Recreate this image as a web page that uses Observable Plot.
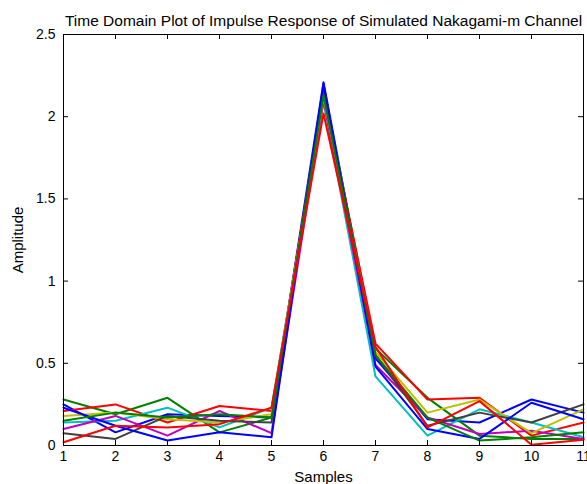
<!DOCTYPE html>
<html>
<head>
<meta charset="utf-8">
<script src="https://cdn.jsdelivr.net/npm/d3@7"></script>
<script src="https://cdn.jsdelivr.net/npm/@observablehq/plot@0.6"></script>
<style>
  html, body { margin: 0; padding: 0; background: #fff; }
  svg { display: block; }
</style>
</head>
<body>
<div id="chart"></div>
<script>
const samples = [1, 2, 3, 4, 5, 6, 7, 8, 9, 10, 11];
const xTicks = [1, 2, 3, 4, 5, 6, 7, 8, 9, 10, 11];
const yTicks = [0, 0.5, 1, 1.5, 2, 2.5];

const seriesNames = ["blue1", "green1", "red1", "cyan", "magenta", "yellow", "gray", "blue2", "green2", "red2"];
const seriesColors = ["#0000ff", "#008000", "#ff0000", "#00bfbf", "#bf00bf", "#bfbf00", "#404040", "#0000ff", "#008000", "#ff0000"];

const blue1   = [0.25, 0.08, 0.19, 0.18, 0.17, 2.21, 0.53, 0.16, 0.14, 0.28, 0.20];
const green1  = [0.28, 0.19, 0.29, 0.08, 0.17, 2.17, 0.59, 0.29, 0.06, 0.04, 0.04];
const red1    = [0.21, 0.25, 0.14, 0.24, 0.21, 2.14, 0.62, 0.28, 0.29, 0.06, 0.14];
const cyan    = [0.14, 0.15, 0.23, 0.11, 0.23, 2.09, 0.42, 0.06, 0.22, 0.14, 0.05];
const magenta = [0.10, 0.18, 0.06, 0.21, 0.075, 2.10, 0.49, 0.17, 0.07, 0.09, 0.04];
const yellow  = [0.18, 0.20, 0.16, 0.14, 0.19, 2.12, 0.57, 0.20, 0.28, 0.075, 0.22];
const gray    = [0.075, 0.04, 0.18, 0.15, 0.14, 2.15, 0.55, 0.12, 0.20, 0.14, 0.25];
const blue2   = [0.23, 0.12, 0.03, 0.08, 0.05, 2.20, 0.48, 0.10, 0.04, 0.26, 0.16];
const green2  = [0.15, 0.20, 0.17, 0.19, 0.17, 2.13, 0.55, 0.17, 0.03, 0.05, 0.08];
const red2    = [0.02, 0.12, 0.11, 0.13, 0.23, 2.02, 0.60, 0.11, 0.27, 0.005, 0.035];

const seriesValues = [blue1, green1, red1, cyan, magenta, yellow, gray, blue2, green2, red2];

const data = seriesValues.flatMap((vals, i) =>
  vals.map((v, j) => ({x: samples[j], y: v, series: seriesNames[i], color: seriesColors[i]}))
);

const titleText = "Time Domain Plot of Impulse Response of Simulated Nakagami-m Channel";

const chart = Plot.plot({
  width: 587,
  height: 484,
  marginLeft: 63,
  marginRight: 4,
  marginTop: 34,
  marginBottom: 39,
  style: {fontFamily: "'Liberation Sans', Arial, sans-serif", fontSize: "14px", color: "#000", background: "#fff"},
  x: {domain: [1, 11]},
  y: {domain: [0, 2.5]},
  color: {type: "identity"},
  marks: [
    Plot.line(data, {x: "x", y: "y", z: "series", stroke: "color", strokeWidth: 2}),
    Plot.frame({stroke: "#000", strokeWidth: 1}),
    // inward ticks bottom / top
    Plot.ruleX(xTicks, {x: d => d, y1: 0, y2: 0, insetTop: -5, stroke: "#000"}),
    Plot.ruleX(xTicks, {x: d => d, y1: 2.5, y2: 2.5, insetBottom: -5, stroke: "#000"}),
    // inward ticks left / right
    Plot.ruleY(yTicks, {y: d => d, x1: 1, x2: 1, insetRight: -5, stroke: "#000"}),
    Plot.ruleY(yTicks, {y: d => d, x1: 11, x2: 11, insetLeft: -5, stroke: "#000"}),
    Plot.axisX(xTicks, {tickSize: 0, tickPadding: 6, fontSize: 14, tickFormat: d => String(d), label: null}),
    Plot.axisX({tickSize: 0, ticks: [], label: "Samples", labelAnchor: "center", labelArrow: "none", labelOffset: 36, fontSize: 15}),
    Plot.axisY(yTicks, {tickSize: 0, tickPadding: 8, fontSize: 14, tickFormat: d => String(d), label: null}),
    Plot.axisY({tickSize: 0, ticks: [], label: "Amplitude", labelAnchor: "center", labelArrow: "none", labelOffset: 51, fontSize: 15}),
    Plot.text([titleText], {frameAnchor: "top", dy: -20, fontSize: 15.5, text: d => d, fill: "#000"})
  ]
});

document.getElementById("chart").appendChild(chart);
</script>
</body>
</html>
